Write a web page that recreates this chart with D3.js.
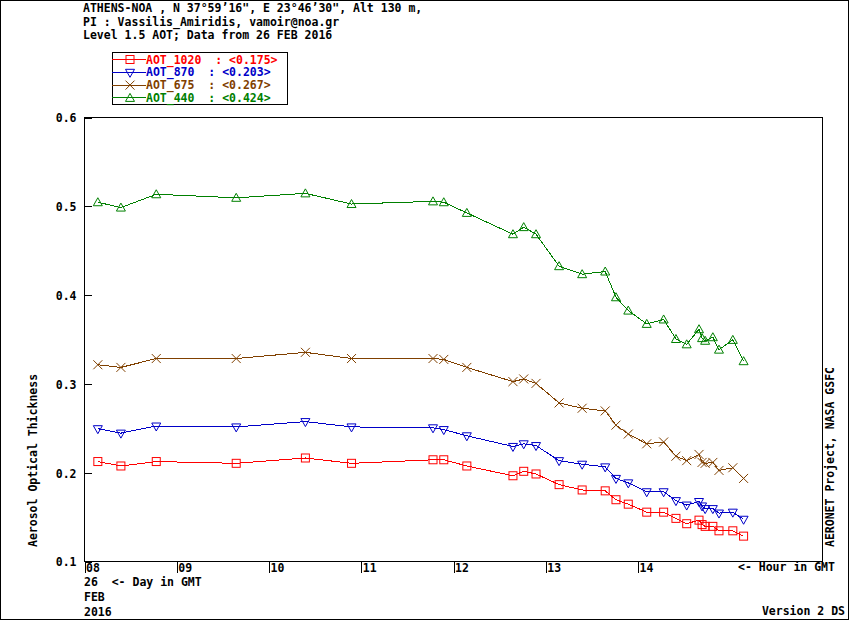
<!DOCTYPE html>
<html>
<head>
<meta charset="utf-8">
<script src="https://cdn.jsdelivr.net/npm/d3@7.9.0/dist/d3.min.js"></script>
<style>
  body { margin: 0; background: #fff; }
  svg text { font-family: "DejaVu Sans Mono", "Liberation Mono", monospace; font-weight: bold; font-size: 11.5px; }
</style>
</head>
<body>
<svg id="chart" width="850" height="620"></svg>
<script>
// measurement times (GMT, 26 FEB 2016)
const times = ["08:09","08:24","08:47","09:39","10:24","10:54","11:47","11:54","12:09","12:39",
  "12:46","12:54","13:09","13:24","13:39","13:46","13:54","14:06","14:17","14:25",
  "14:32","14:40","14:42","14:44","14:49","14:53","15:02","15:09"];

const aot1020 = [0.212,0.207,0.212,0.210,0.216,0.210,0.214,0.214,0.207,0.196,
  0.201,0.198,0.186,0.180,0.179,0.169,0.164,0.155,0.155,0.148,
  0.142,0.146,0.141,0.139,0.139,0.134,0.134,0.128];
const aot870 = [0.249,0.244,0.252,0.251,0.257,0.251,0.250,0.248,0.241,0.229,
  0.232,0.230,0.213,0.209,0.206,0.193,0.188,0.178,0.178,0.168,
  0.163,0.167,0.162,0.159,0.159,0.154,0.155,0.147];
const aot675 = [0.321,0.318,0.328,0.328,0.335,0.328,0.328,0.327,0.318,0.302,
  0.305,0.300,0.278,0.272,0.269,0.253,0.243,0.232,0.234,0.218,
  0.213,0.220,0.211,0.210,0.211,0.202,0.205,0.193];
const aot440 = [0.504,0.498,0.513,0.509,0.514,0.502,0.505,0.504,0.492,0.468,
  0.476,0.468,0.432,0.423,0.426,0.397,0.382,0.367,0.372,0.350,
  0.344,0.361,0.351,0.348,0.352,0.338,0.349,0.325];

const seriesNames = ["AOT_1020", "AOT_870", "AOT_675", "AOT_440"];
const seriesMeans = ["0.175", "0.203", "0.267", "0.424"];
const seriesColors = ["#ff0000", "#0000c8", "#804000", "#008000"];
const seriesShapes = ["square", "down", "cross", "up"];

const yTicks = [0.1, 0.2, 0.3, 0.4, 0.5, 0.6];
const xTicks = [8, 9, 10, 11, 12, 13, 14];
const xTickLabels = ["08", "09", "10", "11", "12", "13", "14"];

const headerLines = [
  "ATHENS-NOA , N 37°59’16\", E 23°46’30\", Alt 130 m,",
  "PI : Vassilis_Amiridis, vamoir@noa.gr",
  "Level 1.5 AOT; Data from 26 FEB 2016"
];

const toHour = s => { const [h, m] = s.split(':'); return +h + +m / 60; };
const hours = times.map(toHour);
const series = [aot1020, aot870, aot675, aot440].map((vals, i) => ({
  name: seriesNames[i],
  mean: seriesMeans[i],
  color: seriesColors[i],
  shape: seriesShapes[i],
  points: vals.map((v, j) => ({ h: hours[j], v }))
}));

const svg = d3.select('#chart');
const plot = { left: 84, right: 822, top: 117, bottom: 561 };

const x = d3.scaleLinear().domain([8, 16]).range([plot.left, plot.right]);
const y = d3.scaleLinear().domain([0.1, 0.6]).range([plot.bottom, plot.top]);

// outer frame
svg.append('rect')
  .attr('x', 0.5).attr('y', 0.5).attr('width', 848).attr('height', 618.5)
  .attr('fill', 'none').attr('stroke', '#000').attr('shape-rendering', 'crispEdges');

// header
svg.append('g').selectAll('text')
  .data(headerLines)
  .join('text')
  .attr('x', 83)
  .attr('y', (d, i) => 12 + i * 13.5)
  .attr('xml:space', 'preserve')
  .text(d => d);

// plot frame
svg.append('rect')
  .attr('x', plot.left + 0.5).attr('y', plot.top + 0.5)
  .attr('width', plot.right - plot.left).attr('height', plot.bottom - plot.top)
  .attr('fill', 'none').attr('stroke', '#000').attr('shape-rendering', 'crispEdges');

// y axis (inward ticks)
const yAxis = svg.append('g')
  .attr('transform', `translate(${plot.left + 0.5},0.5)`)
  .call(d3.axisRight(y).tickValues(yTicks).tickSize(7).tickFormat(d3.format('.1f')));
yAxis.select('.domain').remove();
yAxis.selectAll('line').attr('shape-rendering', 'crispEdges');
yAxis.selectAll('text')
  .attr('x', -8).attr('dy', '0.38em')
  .attr('text-anchor', 'end').attr('fill', '#000')
  .style('font-size', '11.5px').style('font-family', null);

// x axis
const xAxis = svg.append('g')
  .attr('transform', `translate(0.5,${plot.bottom + 0.5})`)
  .call(d3.axisBottom(x).tickValues(xTicks).tickSize(11).tickFormat((d, i) => xTickLabels[i]));
xAxis.select('.domain').remove();
xAxis.selectAll('line').attr('shape-rendering', 'crispEdges');
xAxis.selectAll('text')
  .attr('x', 1).attr('y', 10).attr('dy', 0)
  .attr('text-anchor', 'start').attr('fill', '#000')
  .style('font-size', '11.5px').style('font-family', null);

svg.append('text').attr('x', 738).attr('y', 571).text('<- Hour in GMT');
svg.append('text').attr('x', 84).attr('y', 586).attr('xml:space', 'preserve').text('26  <- Day in GMT');
svg.append('text').attr('x', 84).attr('y', 601).text('FEB');
svg.append('text').attr('x', 84).attr('y', 616).text('2016');
svg.append('text').attr('x', 845).attr('y', 615).attr('text-anchor', 'end').text('Version 2 DS');

svg.append('text')
  .attr('transform', 'translate(37,547) rotate(-90)')
  .text('Aerosol Optical Thickness');
svg.append('text')
  .attr('transform', 'translate(834,547) rotate(-90)')
  .text('AERONET Project, NASA GSFC');

// marker drawing
function marker(sel, shape, color) {
  if (shape === 'square') {
    sel.append('rect').attr('x', -4).attr('y', -4).attr('width', 8).attr('height', 8)
      .attr('fill', 'none').attr('stroke', color);
  } else if (shape === 'down') {
    sel.append('path').attr('d', 'M-4.5,-3L4.5,-3L0,5Z').attr('fill', 'none').attr('stroke', color);
  } else if (shape === 'up') {
    sel.append('path').attr('d', 'M0,-4.5L4.5,3.5L-4.5,3.5Z').attr('fill', 'none').attr('stroke', color);
  } else {
    sel.append('path').attr('d', 'M-4.5,-4.5L4.5,4.5M-4.5,4.5L4.5,-4.5').attr('fill', 'none').attr('stroke', color);
  }
}

const line = d3.line().x(d => x(d.h)).y(d => y(d.v));

const gSeries = svg.append('g').selectAll('g')
  .data(series)
  .join('g');

gSeries.append('path')
  .attr('d', d => line(d.points))
  .attr('fill', 'none')
  .attr('stroke', d => d.color)
  .attr('stroke-width', 1)
  .attr('shape-rendering', 'crispEdges');

gSeries.each(function (s) {
  d3.select(this).selectAll('g.m')
    .data(s.points)
    .join('g')
    .attr('class', 'm')
    .attr('transform', d => `translate(${x(d.h)},${y(d.v)})`)
    .each(function () { marker(d3.select(this), s.shape, s.color); });
});

// legend
const legend = svg.append('g');
legend.append('rect')
  .attr('x', 112.5).attr('y', 52.5).attr('width', 175).attr('height', 52)
  .attr('fill', 'none').attr('stroke', '#000').attr('shape-rendering', 'crispEdges');

const rows = legend.selectAll('g.row')
  .data(series)
  .join('g')
  .attr('class', 'row')
  .attr('transform', (d, i) => `translate(0,${59.5 + i * 12.8})`);

rows.append('line')
  .attr('x1', 112).attr('x2', 146).attr('y1', 0).attr('y2', 0)
  .attr('stroke', d => d.color).attr('shape-rendering', 'crispEdges');
rows.each(function (d) {
  const g = d3.select(this).append('g').attr('transform', 'translate(130,0)');
  marker(g, d.shape, d.color);
});
rows.append('text')
  .attr('x', 146).attr('y', 4)
  .attr('xml:space', 'preserve')
  .attr('fill', d => d.color)
  .text(d => `${d.name}  : <${d.mean}>`);
</script>
</body>
</html>
